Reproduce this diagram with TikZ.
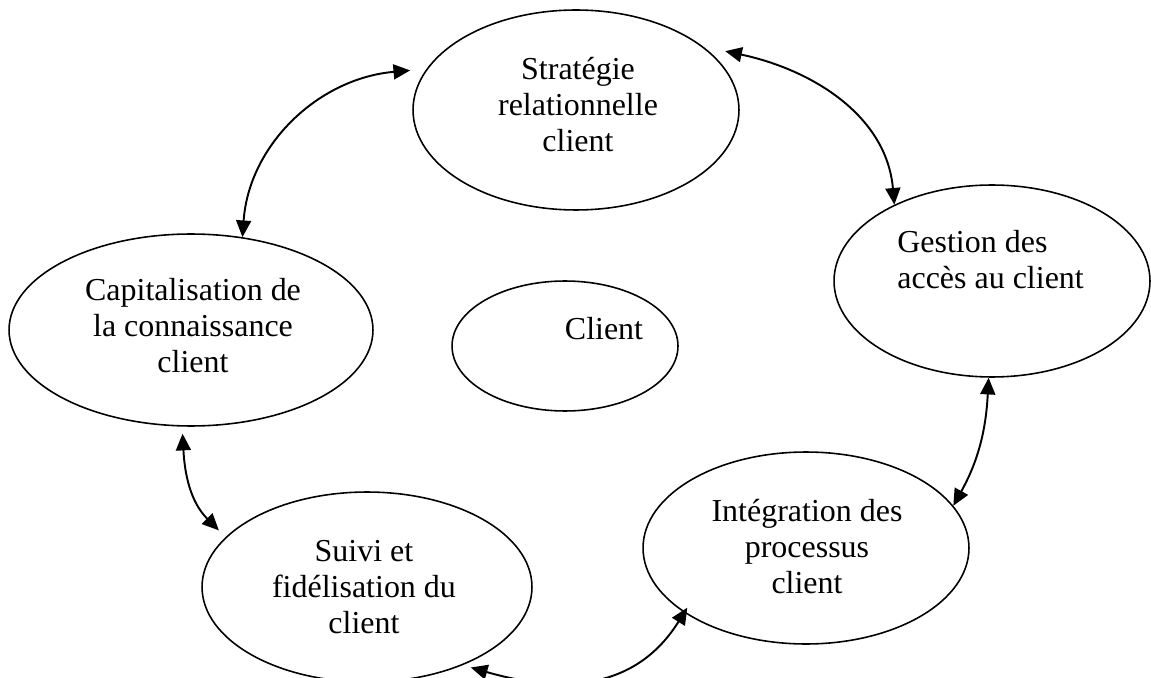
\documentclass[tikz,border=0pt]{standalone}
\usepackage{fontspec}
\setmainfont{Liberation Serif}
\usetikzlibrary{shapes.geometric,arrows.meta}
\begin{document}
\begin{tikzpicture}[x=0.02cm,y=-0.02cm,
  bubble/.style={ellipse,draw,line width=0.9pt,inner sep=0pt},
  lbl/.style={font=\fontsize{18.2}{20.5}\selectfont,align=center,inner sep=0pt},
  link/.style={{Triangle[length=9.5pt,width=8.5pt]}-{Triangle[length=9.5pt,width=8.5pt]},line width=1.1pt}]
\useasboundingbox (0,0) rectangle (1151,678);
\clip (0,0) rectangle (1151,678);
% ellipses
\node[bubble,minimum width=6.52cm,minimum height=4.0cm] (strat) at (576,110) {};
\node[bubble,minimum width=6.32cm,minimum height=3.84cm] (gestion) at (992,281) {};
\node[bubble,minimum width=7.28cm,minimum height=3.84cm] (cap) at (191,330) {};
\node[bubble,minimum width=4.52cm,minimum height=2.60cm] (client) at (565,346) {};
\node[bubble,minimum width=6.60cm,minimum height=3.80cm] (suivi) at (367,587) {};
\node[bubble,minimum width=6.52cm,minimum height=3.84cm] (integ) at (806,548) {};
% texts
\node[lbl] (tstrat) at (578,105) {Stratégie\\relationnelle\\client};
\node[lbl,align=left,anchor=west] (tgestion) at (897,260) {Gestion des\\accès au client};
\node[lbl] (tcap) at (193,326) {Capitalisation de\\la connaissance\\client};
\node[lbl] (tclient) at (604,329) {Client};
\node[lbl] (tsuivi) at (364,587) {Suivi et\\fidélisation du\\client};
\node[lbl] (tinteg) at (807,547) {Intégration des\\processus\\client};
% connectors
\draw[link] (cap.61) to[out=86,in=185] ([xshift=-8pt,yshift=1pt]strat.166);
\draw[link] ([xshift=7pt,yshift=2pt]strat.22) to[out=-12,in=95] (gestion.142);
\draw[link] (gestion.268) to[out=-93,in=61] (integ.16);
\draw[link] ([xshift=3pt,yshift=-2pt]suivi.-38) to[out=-16,in=-122,looseness=1.1] ([xshift=3pt,yshift=2pt]integ.207);
\draw[link] ([yshift=-4pt]cap.265) to[out=-87,in=135] ([xshift=-7pt,yshift=1pt]suivi.158);
\end{tikzpicture}
\end{document}
